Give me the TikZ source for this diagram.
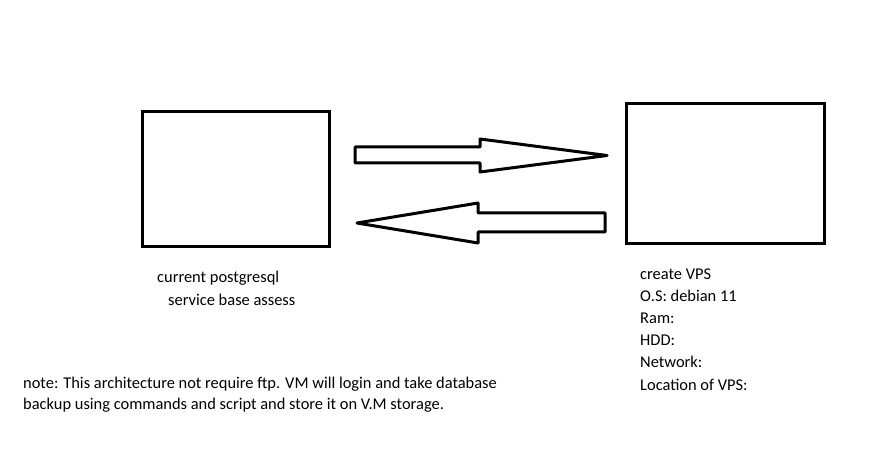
\documentclass[tikz,border=0pt]{standalone}
\usepackage{fontspec}
\setmainfont{Carlito}
\begin{document}
\begin{tikzpicture}[x=1bp,y=-1bp,
  box/.style={draw=black,line width=3.5bp},
  blockarrow/.style={draw=black,line width=3bp,line join=round,fill=white},
  lbl/.style={anchor=base west,inner sep=0pt,font=\fontsize{16.5}{22}\selectfont}]
\useasboundingbox[fill=white] (0,0) rectangle (873,471);
\node[box,minimum width=187bp,minimum height=135bp,inner sep=0pt] (src) at (236,179) {};
\node[box,minimum width=198bp,minimum height=140bp,inner sep=0pt] (vps) at (725.5,173.5) {};
% right-pointing block arrow
\draw[blockarrow] (355,147) -- (480,147) -- (480,139) -- (607,155.5) -- (480,172) -- (480,163) -- (355,163) -- cycle;
% left-pointing block arrow
\draw[blockarrow] (605,213) -- (478,213) -- (478,203) -- (357,223) -- (478,243) -- (478,232) -- (605,232) -- cycle;
\node[lbl] (t1) at (157,283) {current postgresql};
\node[lbl] (t2) at (168,306) {service base assess};
\node[lbl] (r1) at (640,280) {create VPS};
\node[lbl] (r2) at (640,302) {O.S: debian 11};
\node[lbl] (r3) at (640,324) {Ram:};
\node[lbl] (r4) at (640,346) {HDD:};
\node[lbl] (r5) at (640,368) {Network:};
\node[lbl] (r6) at (640,390) {Location of VPS:};
\node[lbl] (n1) at (23,388) {note: This architecture not require ftp. VM will login and take database};
\node[lbl] (n2) at (23,409) {backup using commands and script and store it on V.M storage.};
\end{tikzpicture}
\end{document}
